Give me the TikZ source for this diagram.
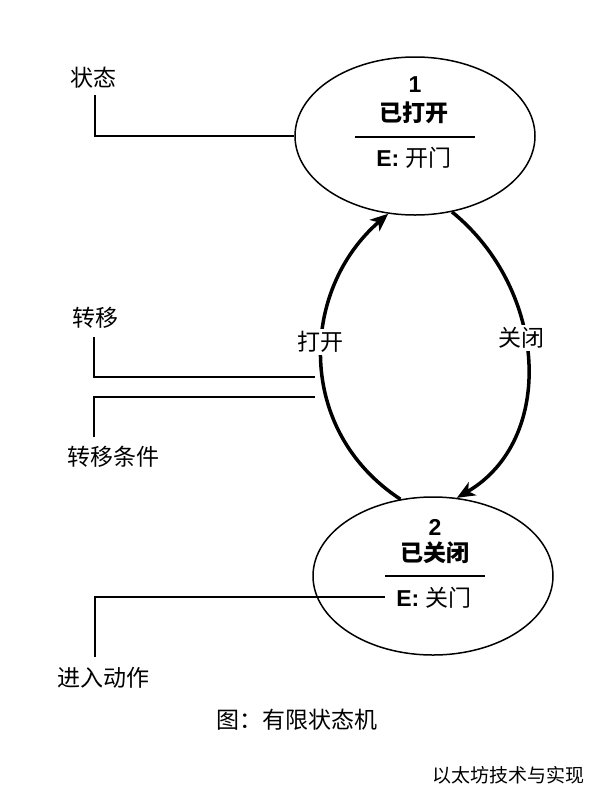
\documentclass[tikz,border=0pt]{standalone}
\usepackage{fontspec}
\setmainfont{Liberation Sans}
\newfontfamily\cjk{Noto Sans CJK SC}
\usetikzlibrary{shapes.geometric,arrows.meta}
\newcommand{\zh}[1]{{\cjk\fontsize{23}{27}\selectfont #1}}
\tikzset{
  state/.style={draw, ellipse, line width=1.5pt, minimum width=240pt, minimum height=158pt, inner sep=0pt},
  numtxt/.style={inner sep=0pt, font=\fontsize{23}{27}\selectfont\bfseries},
  titletxt/.style={inner sep=0pt, font=\fontsize{23}{27}\selectfont\cjk\bfseries},
  entrytxt/.style={inner sep=0pt, font=\fontsize{23}{27}\selectfont},
  lbltxt/.style={inner sep=0pt, font=\fontsize{23}{27}\selectfont\cjk},
  edgelbl/.style={inner sep=2pt, fill=white, font=\fontsize{23}{27}\selectfont\cjk},
  marktxt/.style={inner sep=0pt, font=\fontsize{19}{23}\selectfont\cjk},
  sepline/.style={line width=2.2pt},
  callout/.style={line width=2.2pt},
  trans/.style={line width=3.5pt, -{Stealth[length=18pt, width=15pt, inset=5pt]}}
}
\begin{document}
\begin{tikzpicture}[x=1pt,y=-1pt]
\useasboundingbox[fill=white] (0,0) rectangle (598,796);

% states
\node[state] (s1) at (415,136) {};
\node[state] (s2) at (433,576) {};

\node[numtxt] (n1) at (415,85) {1};
\node[titletxt] (t1) at (414,113) {已打开};
\coordinate (d1a) at (355,137);
\coordinate (d1b) at (475,137);
\draw[sepline] (d1a) -- (d1b);
\node[entrytxt] (e1) at (414,158) {\textbf{E:} \zh{开门}};

\node[numtxt] (n2) at (435,527) {2};
\node[titletxt] (t2) at (435,553) {已关闭};
\coordinate (d2a) at (385,576);
\coordinate (d2b) at (485,576);
\draw[sepline] (d2a) -- (d2b);
\node[entrytxt] (e2) at (434,598) {\textbf{E:} \zh{关门}};

% transitions
\draw[trans] (s2.113) .. controls (295,430) and (300,290) .. (s1.-109);
\draw[trans] (s1.-64) .. controls (548,290) and (556,440) .. (s2.73);
\node[edgelbl] (l1) at (320,342) {打开};
\node[edgelbl] (l2) at (521,338) {关闭};

% callouts
\node[lbltxt] (c1) at (93,78) {状态};
\coordinate (c1a) at (95,95);
\draw[callout] (c1a) |- (s1.west);

\node[lbltxt] (c2) at (95,318) {转移};
\coordinate (c2a) at (94,337);
\coordinate (c2b) at (315,377);
\draw[callout] (c2a) |- (c2b);

\node[lbltxt] (c3) at (113,457) {转移条件};
\coordinate (c3a) at (94,437);
\coordinate (c3b) at (315,397);
\draw[callout] (c3a) |- (c3b);

\node[lbltxt] (c4) at (103,678) {进入动作};
\coordinate (c4a) at (95,657);
\coordinate (c4b) at (385,597);
\draw[callout] (c4a) |- (c4b);

\node[lbltxt] (cap) at (297,720) {图：有限状态机};
\node[marktxt] (wm) at (508,775) {以太坊技术与实现};
\end{tikzpicture}
\end{document}
